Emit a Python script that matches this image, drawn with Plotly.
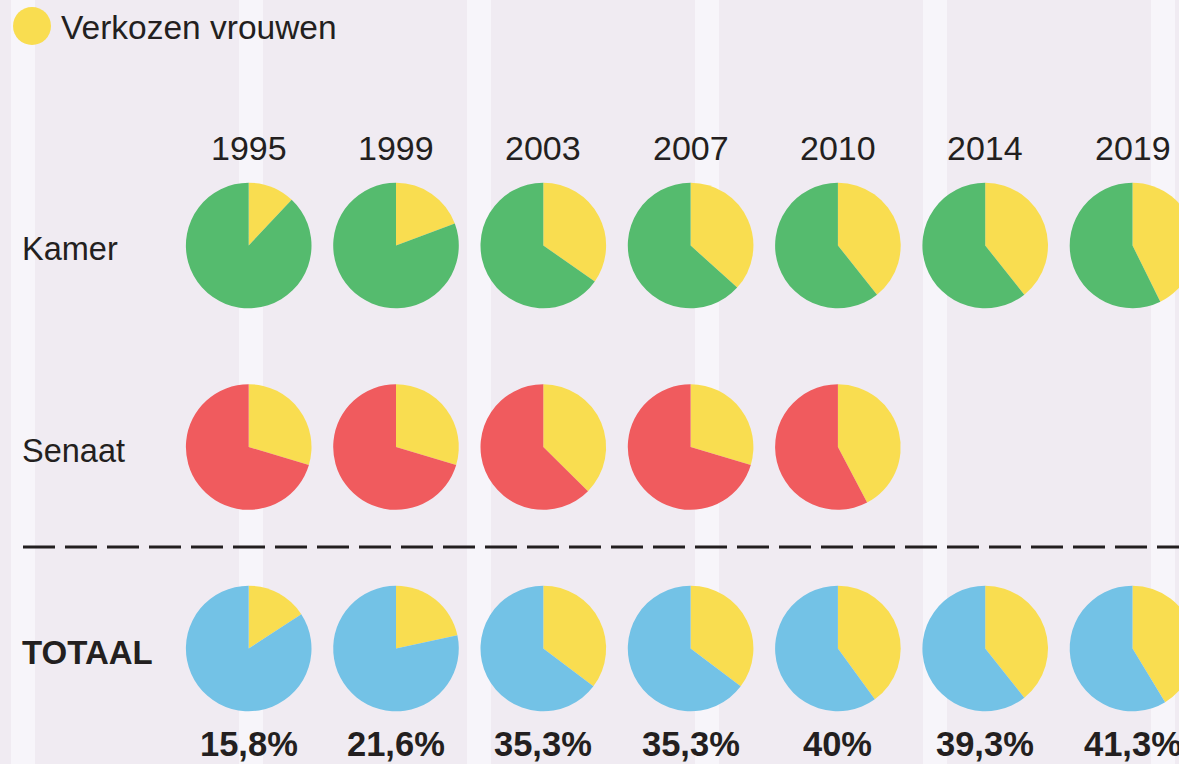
import plotly.graph_objects as go

# ---- data ----
years = ["1995", "1999", "2003", "2007", "2010", "2014", "2019"]
rows = ["Kamer", "Senaat", "TOTAAL"]
kamer_women = [12.0, 19.3, 34.7, 36.7, 39.3, 39.3, 42.7]
senaat_women = [29.6, 29.6, 37.4, 29.6, 42.3]
totaal_women = [15.8, 21.6, 35.3, 35.3, 40.0, 39.3, 41.3]
legend_label = "Verkozen vrouwen"

# ---- style ----
W, H = 1200, 764
BG = "#f0ebf2"
STRIPE = "#f7f5fa"
INK = "#231f20"
YELLOW = "#f9dd50"
ROW_COLORS = ["#55bb6e", "#f05b5e", "#73c2e6"]
FONT = "Liberation Sans, Arial, sans-serif"

X0, DX, R = 248.7, 147.3, 62.8
ROW_Y = [245.5, 447.0, 648.5]


def px_x(x):
    return x / W


def px_y(y):
    return 1 - y / H


fig = go.Figure()

series = [kamer_women, senaat_women, totaal_women]
for ri, vals in enumerate(series):
    cy = ROW_Y[ri]
    for ci, v in enumerate(vals):
        cx = X0 + ci * DX
        fig.add_trace(go.Pie(
            values=[v, 100 - v],
            labels=[legend_label, "Verkozen mannen"],
            sort=False,
            direction="clockwise",
            rotation=0,
            marker=dict(colors=[YELLOW, ROW_COLORS[ri]], line=dict(width=0)),
            textinfo="none",
            hoverinfo="label+percent",
            domain=dict(x=[px_x(cx - R), px_x(cx + R)],
                        y=[px_y(cy + R), px_y(cy - R)]),
            showlegend=False,
        ))

shapes = []
# background stripes
for k in range(6):
    x0 = 11 + k * 228
    shapes.append(dict(type="rect", xref="paper", yref="paper",
                       x0=px_x(x0), x1=px_x(x0 + 24), y0=0, y1=1,
                       fillcolor=STRIPE, line=dict(width=0), layer="below"))
# dashed separator
shapes.append(dict(type="line", xref="paper", yref="paper",
                   x0=px_x(23), x1=1, y0=px_y(547), y1=px_y(547),
                   line=dict(color=INK, width=3, dash="32px,10px")))
# legend dot
shapes.append(dict(type="circle", xref="paper", yref="paper",
                   x0=px_x(13), x1=px_x(51), y0=px_y(45), y1=px_y(7),
                   fillcolor=YELLOW, line=dict(width=0)))

annotations = []
annotations.append(dict(text=legend_label, x=px_x(59), y=px_y(27), xref="paper", yref="paper",
                        xanchor="left", yanchor="middle", showarrow=False,
                        font=dict(family=FONT, size=33.5, color=INK)))
for ci, yr in enumerate(years):
    annotations.append(dict(text=yr, x=px_x(X0 + ci * DX), y=px_y(148), xref="paper", yref="paper",
                            xanchor="center", yanchor="middle", showarrow=False,
                            font=dict(family=FONT, size=34, color=INK)))
for ri, name in enumerate(rows):
    bold = name == "TOTAAL"
    annotations.append(dict(text=f"<b>{name}</b>" if bold else name,
                            x=px_x(20), y=px_y(ROW_Y[ri] + 4), xref="paper", yref="paper",
                            xanchor="left", yanchor="middle", showarrow=False,
                            font=dict(family=FONT, size=33 if bold else 32.5, color=INK)))
for ci, v in enumerate(totaal_women):
    lab = f"{v:g}".replace(".", ",") + "%"
    annotations.append(dict(text=f"<b>{lab}</b>", x=px_x(X0 + ci * DX), y=0, xref="paper", yref="paper",
                            xanchor="center", yanchor="bottom", showarrow=False, borderpad=0,
                            font=dict(family=FONT, size=34.5, color=INK)))

fig.update_layout(
    width=W, height=H,
    margin=dict(l=0, r=0, t=0, b=0),
    paper_bgcolor=BG, plot_bgcolor=BG,
    showlegend=False,
    shapes=shapes,
    annotations=annotations,
)

fig.write_html("out.html",
               config={"displayModeBar": False},
               post_script="document.body.style.margin='0';document.body.style.overflow='hidden';document.documentElement.style.overflow='hidden';")
